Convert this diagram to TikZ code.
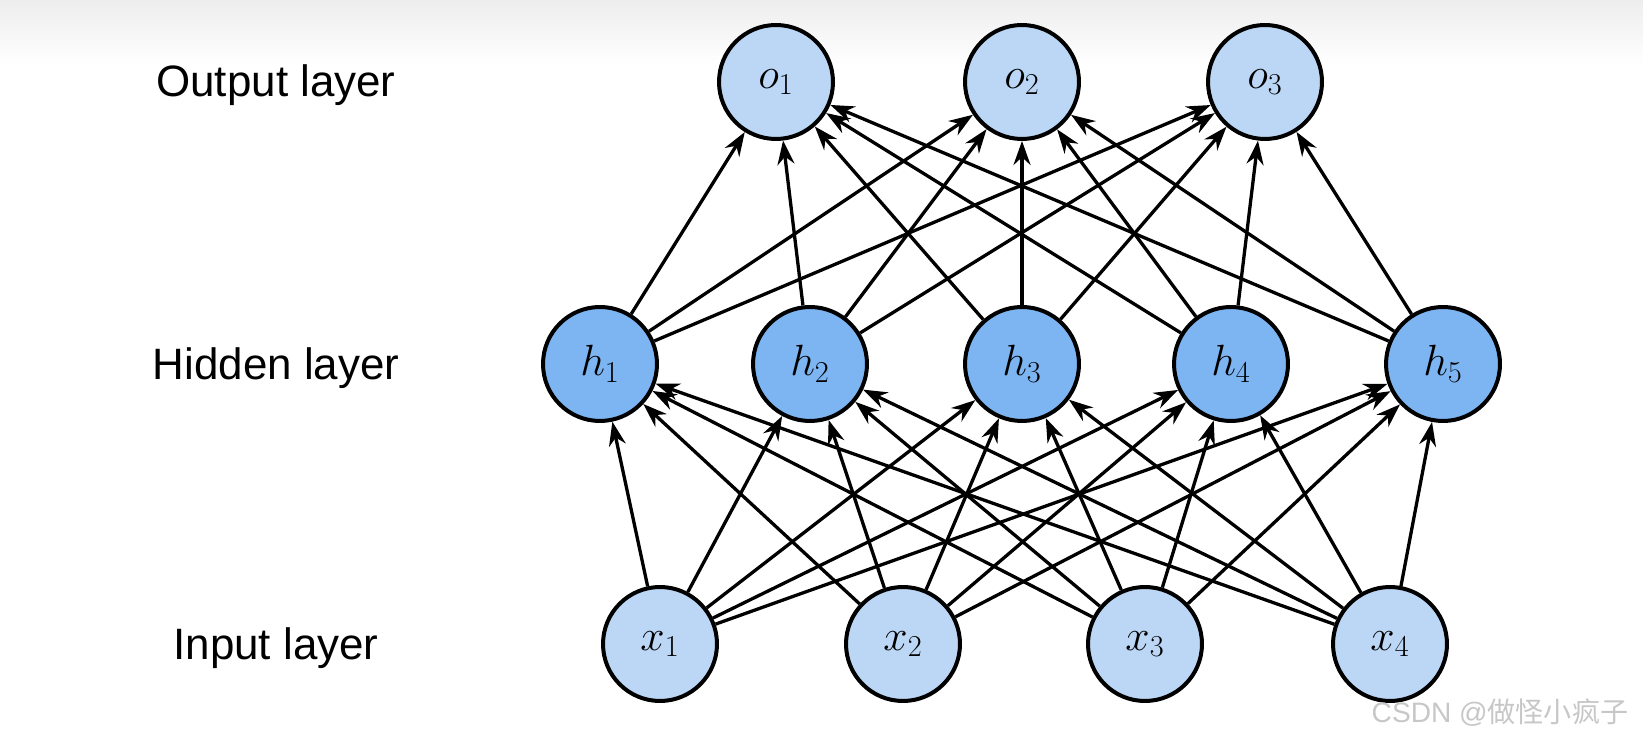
\documentclass[tikz,border=0pt]{standalone}
\usepackage{fontspec}
\setmainfont{Liberation Sans}
\newfontfamily\cjk{Noto Sans CJK SC}
\usetikzlibrary{arrows.meta}

\definecolor{lightblue}{RGB}{187,215,245}
\definecolor{darkblue}{RGB}{125,181,242}

\begin{document}
\begin{tikzpicture}[
    x=0.02cm, y=-0.02cm,
    neuron/.style={circle, draw=black, line width=0.08cm, minimum size=2.28cm, inner sep=0pt, font=\fontsize{25}{28}\selectfont},
    inout/.style={neuron, fill=lightblue},
    hidden/.style={neuron, fill=darkblue},
    edge/.style={draw=black, line width=0.066cm, -{Stealth[length=0.48cm, width=0.34cm]}},
    layer/.style={font=\fontsize{25}{30}\selectfont},
]
\useasboundingbox (0,0) rectangle (1643,739);
\shade[top color=black!7, bottom color=white] (0,0) rectangle (1643,65);

% Labels
\node[layer] (lout) at (276, 85) {Output layer};
\node[layer] (lhid) at (276, 368) {Hidden layer};
\node[layer] (lin) at (276, 648) {Input layer};

% Neurons
\node[inout] (o1) at (776, 82) {$o_1$};
\node[inout] (o2) at (1022, 82) {$o_2$};
\node[inout] (o3) at (1265, 82) {$o_3$};
\node[hidden] (h1) at (600, 364) {$h_1$};
\node[hidden] (h2) at (810, 364) {$h_2$};
\node[hidden] (h3) at (1022, 364) {$h_3$};
\node[hidden] (h4) at (1231, 364) {$h_4$};
\node[hidden] (h5) at (1443, 364) {$h_5$};
\node[inout] (x1) at (660, 644) {$x_1$};
\node[inout] (x2) at (903, 644) {$x_2$};
\node[inout] (x3) at (1145, 644) {$x_3$};
\node[inout] (x4) at (1390, 644) {$x_4$};

% Connections
\foreach \i in {1,...,4}
  \foreach \j in {1,...,5}
    \draw[edge] (x\i) -- (h\j);
\foreach \j in {1,...,5}
  \foreach \k in {1,2,3}
    \draw[edge] (h\j) -- (o\k);

% Watermark
\node[text=black!22, font=\fontsize{16}{19}\selectfont] (mark) at (1500, 713) {CSDN @{\cjk 做怪小疯子}};

\end{tikzpicture}
\end{document}
